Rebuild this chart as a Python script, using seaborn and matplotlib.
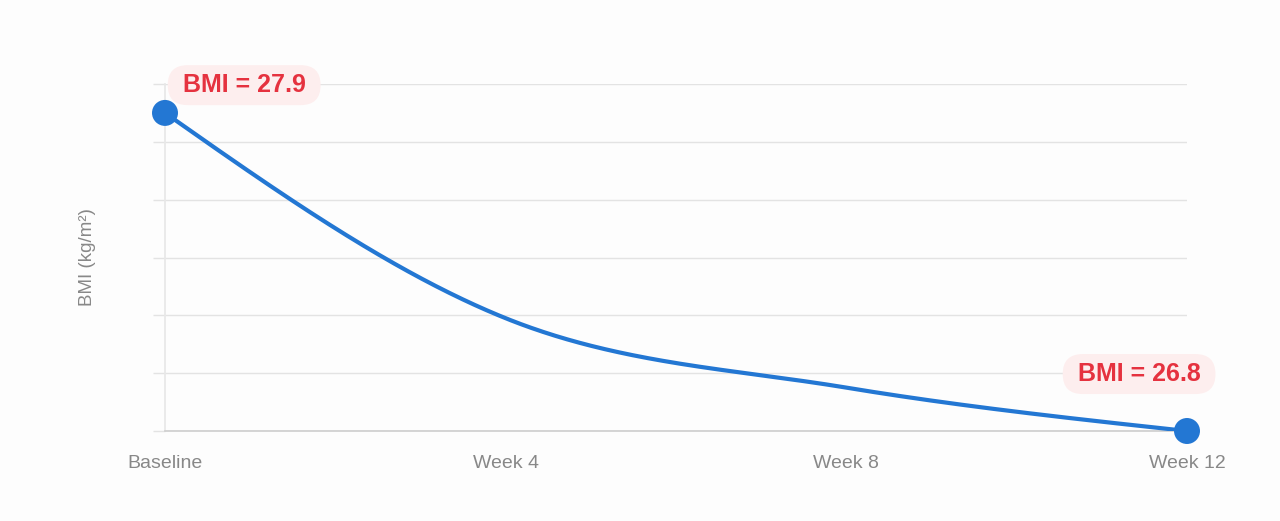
import matplotlib
matplotlib.use("Agg")
import matplotlib.pyplot as plt
import numpy as np
import pandas as pd
import seaborn as sns

# data
timepoints = ["Baseline", "Week 4", "Week 8", "Week 12"]
weeks = [0, 4, 8, 12]
bmi = [27.9, 27.19, 26.95, 26.8]

BLUE = "#2377d3"
RED = "#e5323f"


def monotone_curve(x, y, n=200):
    # monotone cubic (like d3 curveMonotoneX) just to draw the smooth line
    x = np.asarray(x, float)
    y = np.asarray(y, float)
    h = np.diff(x)
    s = np.diff(y) / h
    t = np.zeros(len(x))
    for i in range(1, len(x) - 1):
        p = (s[i - 1] * h[i] + s[i] * h[i - 1]) / (h[i - 1] + h[i])
        t[i] = (np.sign(s[i - 1]) + np.sign(s[i])) * min(abs(s[i - 1]), abs(s[i]), 0.5 * abs(p))
    t[0] = (3 * s[0] - t[1]) / 2
    t[-1] = (3 * s[-1] - t[-2]) / 2
    xs, ys = [], []
    for i in range(len(x) - 1):
        u = np.linspace(0, 1, n)
        h00 = 2 * u**3 - 3 * u**2 + 1
        h10 = u**3 - 2 * u**2 + u
        h01 = -2 * u**3 + 3 * u**2
        h11 = u**3 - u**2
        xs.append(x[i] + u * h[i])
        ys.append(h00 * y[i] + h10 * h[i] * t[i] + h01 * y[i + 1] + h11 * h[i] * t[i + 1])
    return np.concatenate(xs), np.concatenate(ys)


sns.set_theme(style="white")
plt.rcParams["font.family"] = ["Liberation Sans", "DejaVu Sans"]

fig = plt.figure(figsize=(12.8, 5.21), dpi=100)
fig.patch.set_facecolor("#fdfdfd")
ax = fig.add_axes([165 / 1280, 1 - 431 / 521, (1187 - 165) / 1280, (431 - 84) / 521])
ax.set_facecolor("#fdfdfd")

cx, cy = monotone_curve(weeks, bmi)
curve = pd.DataFrame({"week": cx, "bmi": cy})
sns.lineplot(data=curve, x="week", y="bmi", ax=ax, color=BLUE, linewidth=3.0,
             sort=False, estimator=None, zorder=3)

ends = pd.DataFrame({"week": [weeks[0], weeks[-1]], "bmi": [bmi[0], bmi[-1]]})
sns.scatterplot(data=ends, x="week", y="bmi", ax=ax, color=BLUE, s=350,
                edgecolor="none", zorder=4, clip_on=False)

ax.set_xlim(0, 12)
ax.set_ylim(26.8, 28.0)
ax.set_xticks(weeks)
ax.set_xticklabels(timepoints)
ax.set_yticks(np.arange(26.8, 28.01, 0.2))
ax.set_yticklabels([])
ax.yaxis.grid(True, color="#e3e3e3", linewidth=1)
ax.tick_params(axis="x", length=0, pad=17, labelsize=14, labelcolor="#888888")
ax.tick_params(axis="y", length=9, color="#e3e3e3", width=1, left=True)
for side in ["top", "right"]:
    ax.spines[side].set_visible(False)
ax.spines["left"].set_color("#e8e8e8")
ax.spines["bottom"].set_color("#cfcfcf")
ax.set_xlabel("")
ax.set_ylabel("BMI (kg/m²)", fontsize=13.5, color="#888888", labelpad=37)

box = dict(boxstyle="round,pad=0.32,rounding_size=0.8", facecolor="#fdeeee",
           edgecolor="none")
ax.annotate(f" BMI = {bmi[0]} ", xy=(weeks[0], bmi[0]), xytext=(57, 20),
            textcoords="offset points", ha="center", va="center",
            fontsize=18, fontweight="bold", color=RED, bbox=box, zorder=5,
            annotation_clip=False)
ax.annotate(f" BMI = {bmi[-1]} ", xy=(weeks[-1], bmi[-1]), xytext=(-34.5, 41),
            textcoords="offset points", ha="center", va="center",
            fontsize=18, fontweight="bold", color=RED, bbox=box, zorder=5,
            annotation_clip=False)

fig.savefig("out.png", dpi=100, facecolor=fig.get_facecolor())
